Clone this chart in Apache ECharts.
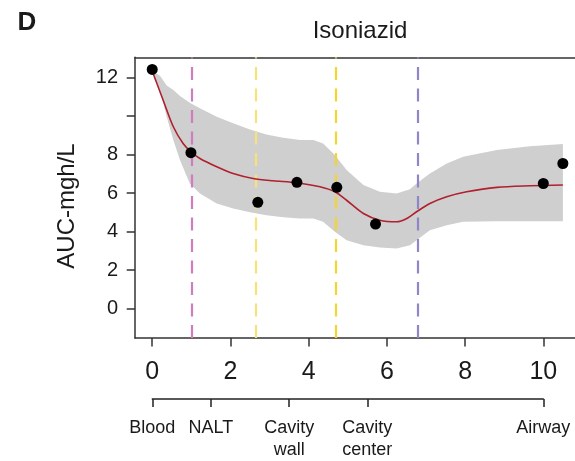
<!DOCTYPE html>
<html>
<head>
<meta charset="utf-8">
<script src="https://cdn.jsdelivr.net/npm/echarts@6/dist/echarts.min.js"></script>
<style>
  html, body { margin: 0; padding: 0; background: #fff; }
  #chart { width: 575px; height: 461px; }
</style>
</head>
<body>
<div id="chart"></div>
<script>
// Observed isoniazid AUC by site position
const obsX = [0, 0.99, 2.70, 3.70, 4.72, 5.71, 10.0, 10.5];
const obsY = [12.43, 8.10, 5.52, 6.56, 6.30, 4.39, 6.50, 7.54];

// Smoothed fit
const fitX = [0, 0.28, 0.54, 0.79, 0.99, 1.22, 1.65, 2.07, 2.58, 3.09, 3.69, 4.29, 4.67, 4.97, 5.40, 5.82, 6.25, 6.51, 6.76, 7.10, 7.53, 8.04, 8.81, 9.66, 10.5];
const fitY = [12.35, 10.83, 9.45, 8.58, 8.15, 7.80, 7.37, 7.02, 6.76, 6.64, 6.54, 6.33, 6.07, 5.63, 4.94, 4.59, 4.51, 4.68, 5.03, 5.46, 5.81, 6.07, 6.30, 6.38, 6.42];

// Confidence band
const bandX    = [0, 0.2, 0.37, 0.54, 0.71, 0.96, 1.22, 1.65, 2.07, 2.5, 2.92, 3.35, 3.78, 4.12, 4.37, 4.67, 4.97, 5.4, 5.82, 6.25, 6.59, 6.76, 7.1, 7.53, 7.95, 8.81, 9.66, 10.5];
const bandHigh = [12.35, 12.1, 11.6, 11.36, 11.05, 10.7, 10.41, 9.97, 9.63, 9.31, 9.05, 8.88, 8.76, 8.76, 8.58, 7.98, 7.2, 6.42, 6.07, 5.98, 6.2, 6.5, 7.02, 7.54, 7.89, 8.24, 8.44, 8.55];
const bandLow  = [12.35, 11.36, 9.97, 8.76, 7.72, 6.5, 5.98, 5.46, 5.2, 5.0, 4.85, 4.75, 4.68, 4.68, 4.51, 3.99, 3.55, 3.29, 3.17, 3.12, 3.29, 3.55, 4.07, 4.33, 4.51, 4.54, 4.54, 4.54];

// Region boundaries (dashed verticals)
const boundaryX = [1, 2.66, 4.7, 6.78];
const boundaryColors = ['#d07cbf', '#f7e27a', '#f3d431', '#8f86c8'];

// Tick values
const xTicks = [0, 2, 4, 6, 8, 10];
const yTicks = [0, 2, 4, 6, 8, 10, 12];
const yLabels = [0, 2, 4, 6, 8, 12];

// Site axis
const siteNames = ['Blood', 'NALT', 'Cavity\nwall', 'Cavity\ncenter', 'Airway'];
const sitePos = [0, 1.5, 3.5, 5.5, 10];

const FONT = '"Liberation Sans", Arial, sans-serif';
const INK = '#1a1a1a';
const FRAME = '#333';

const X_MIN = -0.44, X_MAX = 10.81;
const Y_MIN = -1.53, Y_MAX = 13.06;

const chart = echarts.init(document.getElementById('chart'), null, { renderer: 'canvas' });

chart.setOption({
  animation: false,
  backgroundColor: '#fff',
  graphic: [
    { type: 'text', x: 27, y: 23, style: { text: 'D', font: 'bold 26px ' + FONT, fill: INK, textAlign: 'center', textVerticalAlign: 'middle' } },
    { type: 'text', x: 360, y: 31.5, style: { text: 'Isoniazid', font: '24px ' + FONT, fill: INK, textAlign: 'center', textVerticalAlign: 'middle' } },
    { type: 'text', x: 67, y: 206, rotation: Math.PI / 2, style: { text: 'AUC-mgh/L', font: '24px ' + FONT, fill: INK, textAlign: 'center', textVerticalAlign: 'middle' } }
  ],
  grid: [
    { left: 135, top: 57.3, right: 0, bottom: 123 },
    { left: 152.3, right: 31.7, top: 399, height: 30 }
  ],
  xAxis: [
    {
      type: 'value', gridIndex: 0, position: 'bottom', min: X_MIN, max: X_MAX,
      axisLine: { show: true, onZero: false, lineStyle: { color: FRAME, width: 1.5 } },
      splitLine: { show: false },
      axisTick: { show: true, customValues: xTicks, length: 8.5, lineStyle: { color: FRAME, width: 1.5 } },
      axisLabel: { customValues: xTicks, fontSize: 25, fontFamily: FONT, color: INK, margin: 22 }
    },
    {
      type: 'value', gridIndex: 1, position: 'top', min: 0, max: 10,
      axisLine: { show: true, onZero: false, lineStyle: { color: '#222', width: 1.5 } },
      splitLine: { show: false },
      axisTick: { show: true, inside: true, customValues: sitePos, length: 8, lineStyle: { color: '#222', width: 1.5 } },
      axisLabel: {
        inside: true, customValues: sitePos, fontSize: 18, lineHeight: 22, fontFamily: FONT, color: INK, margin: 18,
        formatter: v => { const i = sitePos.indexOf(v); return i >= 0 ? siteNames[i] : ''; }
      }
    },
    {
      // top frame line of the plot box
      type: 'value', gridIndex: 0, position: 'top', min: X_MIN, max: X_MAX,
      axisLine: { show: true, onZero: false, lineStyle: { color: FRAME, width: 1.5 } },
      axisTick: { show: false }, axisLabel: { show: false }, splitLine: { show: false }
    }
  ],
  yAxis: [
    {
      type: 'value', gridIndex: 0, min: Y_MIN, max: Y_MAX,
      axisLine: { show: true, onZero: false, lineStyle: { color: FRAME, width: 1.5 } },
      splitLine: { show: false },
      axisTick: { show: true, customValues: yTicks, length: 8.3, lineStyle: { color: FRAME, width: 1.5 } },
      axisLabel: { customValues: yLabels, fontSize: 20, fontFamily: FONT, color: INK, margin: 17 }
    },
    { type: 'value', gridIndex: 1, show: false }
  ],
  series: [
    {
      // shaded band as a single polygon
      type: 'custom', xAxisIndex: 0, yAxisIndex: 0, z: 1, silent: true,
      data: [0],
      renderItem: (params, api) => {
        const pts = [];
        for (let i = 0; i < bandX.length; i++) pts.push(api.coord([bandX[i], bandHigh[i]]));
        for (let i = bandX.length - 1; i >= 0; i--) pts.push(api.coord([bandX[i], bandLow[i]]));
        return { type: 'polygon', shape: { points: pts }, style: { fill: '#cfcfcf', stroke: null } };
      }
    },
    {
      type: 'line', xAxisIndex: 0, yAxisIndex: 0, z: 2, data: [], silent: true,
      markLine: {
        silent: true, symbol: 'none', label: { show: false }, z: 2,
        data: boundaryX.map((x, i) => ({ xAxis: x, lineStyle: { color: boundaryColors[i], type: [13, 8.5], width: 2.2 } }))
      }
    },
    {
      type: 'line', xAxisIndex: 0, yAxisIndex: 0, z: 3, smooth: 0.3, showSymbol: false, silent: true,
      lineStyle: { color: '#b0202e', width: 1.6 },
      data: fitX.map((x, i) => [x, fitY[i]])
    },
    {
      type: 'scatter', xAxisIndex: 0, yAxisIndex: 0, z: 4, symbolSize: 11, silent: true,
      itemStyle: { color: '#000', opacity: 1 },
      data: obsX.map((x, i) => [x, obsY[i]])
    }
  ]
});
</script>
</body>
</html>
